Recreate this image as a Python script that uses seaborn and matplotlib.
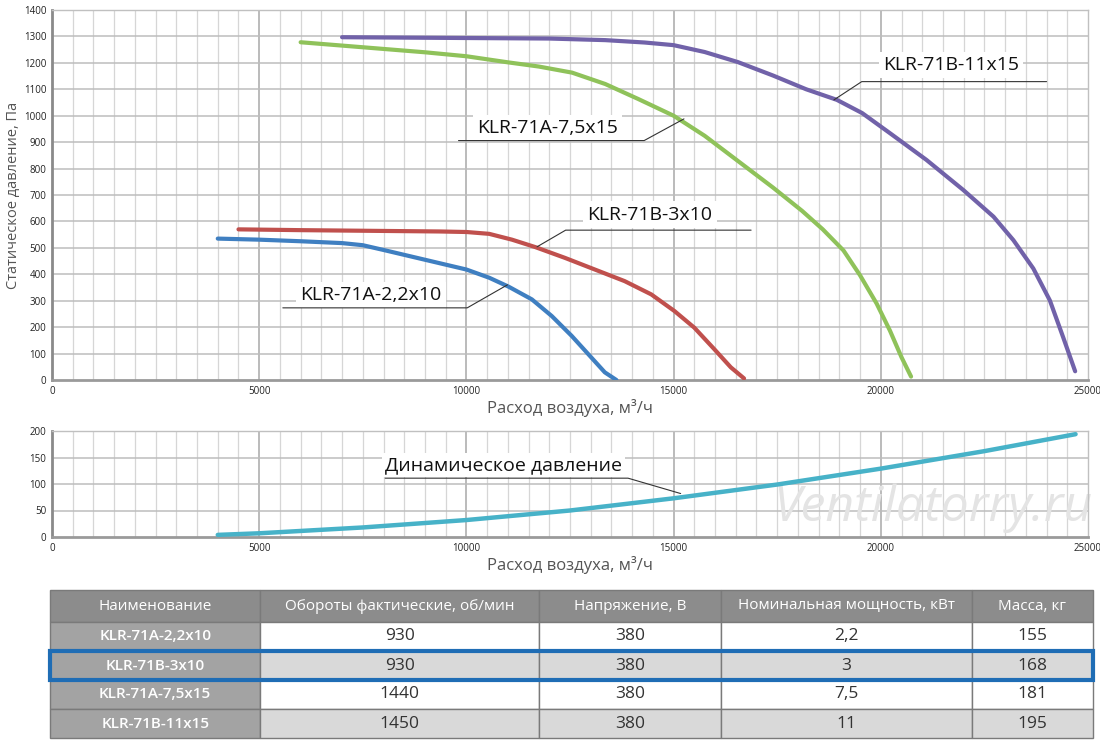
import numpy as np
import pandas as pd
import matplotlib
matplotlib.use("Agg")
import matplotlib.pyplot as plt
from matplotlib.patches import Rectangle
import seaborn as sns

# --- static pressure curves (flow m3/h, pressure Pa) ---
models = ["KLR-71A-2,2x10", "KLR-71B-3x10", "KLR-71A-7,5x15", "KLR-71B-11x15"]

flow_a22 = [4000, 5000, 6000, 7000, 7500, 8000, 9000, 10000, 10550, 11020, 11580,
            12060, 12540, 12940, 13340, 13620]
pres_a22 = [535, 531, 525, 518, 510, 492, 455, 418, 387, 353, 305,
            242, 167, 98, 29, 0]

flow_b3 = [4500, 6000, 8000, 9350, 10000, 10550, 11100, 11660, 12380, 13100, 13820,
           14460, 15020, 15500, 15980, 16380, 16700]
pres_b3 = [570, 567, 564, 562, 560, 553, 531, 503, 462, 418, 374,
           324, 261, 198, 117, 48, 6]

flow_a75 = [6000, 7500, 9000, 10000, 11000, 11750, 12550, 13350, 14150, 15000, 15750,
            16550, 17400, 18100, 18600, 19100, 19500, 19900, 20220, 20500, 20730]
pres_a75 = [1278, 1259, 1240, 1225, 1202, 1186, 1163, 1120, 1063, 1000, 924,
            829, 728, 640, 570, 490, 396, 289, 187, 86, 13]

flow_b11 = [7000, 9000, 11000, 12000, 13350, 14300, 15000, 15750, 16550, 17400, 18200,
            18940, 19550, 20220, 21100, 21990, 22720, 23200, 23680, 24080, 24400, 24690]
pres_b11 = [1297, 1295, 1293, 1292, 1286, 1277, 1267, 1241, 1203, 1152, 1100,
            1060, 1010, 934, 833, 719, 618, 529, 422, 301, 162, 33]

# --- dynamic pressure ---
flow_dyn = [4000, 5000, 7500, 10000, 12500, 15000, 17500, 20000, 22500, 24700]
pres_dyn = [4, 7, 18, 32, 50, 73, 99, 129, 162, 194]

# --- table ---
col_labels = ["Наименование", "Обороты фактические, об/мин", "Напряжение, В",
              "Номинальная мощность, кВт", "Масса, кг"]
rpm = ["930", "930", "1440", "1450"]
voltage = ["380", "380", "380", "380"]
power = ["2,2", "3", "7,5", "11"]
mass = ["155", "168", "181", "195"]
highlight_row = 1

colors = ["#3f7fc1", "#c0504d", "#8fc25a", "#7162a9"]
dyn_color = "#47b2c8"

sns.set_style("white")
plt.rcParams["font.family"] = ["Open Sans", "DejaVu Sans"]

df = pd.concat([
    pd.DataFrame({"flow": f, "pressure": p, "model": m})
    for f, p, m in zip([flow_a22, flow_b3, flow_a75, flow_b11],
                       [pres_a22, pres_b3, pres_a75, pres_b11], models)
])
df_dyn = pd.DataFrame({"flow": flow_dyn, "pressure": pres_dyn})

fig = plt.figure(figsize=(11, 7.44), dpi=100)
ax1 = fig.add_axes([52 / 1100, 1 - 380 / 744, 1036 / 1100, 370 / 744])
ax2 = fig.add_axes([52 / 1100, 1 - 537 / 744, 1036 / 1100, 106 / 744])
ax3 = fig.add_axes([50 / 1100, 6 / 744, 1043 / 1100, 148 / 744])


def style_grid(ax, ymax, ystep):
    ax.set_xlim(0, 25000)
    ax.set_ylim(0, ymax)
    for x in np.arange(500, 25000, 500):
        major = x % 5000 == 0
        ax.axvline(x, color="#b5b5b5" if major else "#d6d6d6",
                   lw=1.3 if major else 0.9, zorder=0)
    for y in np.arange(ystep, ymax + 1, ystep):
        ax.axhline(y, color="#bdbdbd", lw=1.1, zorder=0)
    ax.set_xticks(np.arange(0, 25001, 5000))
    ax.set_yticks(np.arange(0, ymax + 1, ystep))
    ax.tick_params(axis="both", labelsize=7, length=3, width=0.8,
                   colors="#777777", labelcolor="#222222", pad=1)
    for side in ["top", "right"]:
        ax.spines[side].set_color("#c0c0c0")
        ax.spines[side].set_linewidth(1)
    ax.spines["left"].set_color("#8a8a8a")
    ax.spines["left"].set_linewidth(2)
    ax.spines["bottom"].set_color("#9a9a9a")
    ax.spines["bottom"].set_linewidth(2)


# --- top chart ---
style_grid(ax1, 1400, 100)
sns.lineplot(data=df, x="flow", y="pressure", hue="model", palette=colors,
             sort=False, lw=3, legend=False, ax=ax1, zorder=3)
ax1.set_xlabel("Расход воздуха, м³/ч", fontsize=12, color="#555555", labelpad=2)
ax1.set_ylabel("Статическое давление, Па", fontsize=10.5, color="#555555", labelpad=2)

# callouts: text position, underline start/end, leader end on curve
callouts = [
    ("KLR-71A-2,2x10", (7700, 321), (5570, 10020, 273), (10990, 360)),
    ("KLR-71B-3x10", (14430, 626), (12395, 16870, 567), (11705, 504)),
    ("KLR-71A-7,5x15", (11950, 953), (9810, 14290, 906), (15250, 988)),
    ("KLR-71B-11x15", (21700, 1192), (19540, 24000, 1129), (18870, 1060)),
]
for label, (tx, ty), (u0, u1, uy), (lx, ly) in callouts:
    ax1.text(tx, ty, label, fontsize=14, ha="center", va="center", color="#111111",
             zorder=4, bbox=dict(facecolor="white", edgecolor="none", pad=3))
    if lx < u0:
        ax1.plot([u1, u0, lx], [uy, uy, ly], color="#333333", lw=0.8, zorder=4)
    else:
        ax1.plot([u0, u1, lx], [uy, uy, ly], color="#333333", lw=0.8, zorder=4)

# --- bottom chart ---
style_grid(ax2, 200, 50)
ax2.text(21260, 55, "Ventilatorry.ru", fontsize=36, style="italic", ha="center",
         va="center", color="#e4e4e4", zorder=1)
sns.lineplot(data=df_dyn, x="flow", y="pressure", color=dyn_color, lw=3.2,
             ax=ax2, zorder=3)
ax2.set_xlabel("Расход воздуха, м³/ч", fontsize=12, color="#555555", labelpad=2)
ax2.set_ylabel("")
ax2.text(10890, 136, "Динамическое давление", fontsize=14, ha="center", va="center",
         color="#111111", zorder=4, bbox=dict(facecolor="white", edgecolor="none", pad=2))
ax2.plot([8040, 13900, 15170], [111, 111, 82], color="#333333", lw=0.8, zorder=4)

# --- table ---
ax3.axis("off")
cells = [[m, r, v, p, w] for m, r, v, p, w in zip(models, rpm, voltage, power, mass)]
body_bg = ["#ffffff", "#d9d9d9", "#ffffff", "#d9d9d9"]
cell_colours = [["#a3a3a3"] + [bg] * 4 for bg in body_bg]
widths = np.array([210, 278, 182, 250, 121], dtype=float)
tbl = ax3.table(cellText=cells, colLabels=col_labels, cellColours=cell_colours,
                colColours=["#8c8c8c"] * 5, colWidths=list(widths / widths.sum()),
                cellLoc="center", bbox=[0, 0, 1, 1])
tbl.auto_set_font_size(False)
for (r, c), cell in tbl.get_celld().items():
    cell.set_edgecolor("#7a7a7a")
    cell.set_linewidth(1)
    cell.set_height(32 if r == 0 else 29)
    txt = cell.get_text()
    if r == 0:
        txt.set_color("white")
        txt.set_fontsize(11)
    elif c == 0:
        txt.set_color("white")
        txt.set_fontsize(11)
        txt.set_fontweight("semibold")
    else:
        txt.set_color("#333333")
        txt.set_fontsize(12.5)

row_h = 29 / 148
ax3.add_patch(Rectangle((0.0, 1 - (32 + 29 * (highlight_row + 1)) / 148), 1.0, row_h,
                        transform=ax3.transAxes, fill=False, edgecolor="#1f6db5",
                        lw=3, zorder=10, clip_on=False))

fig.savefig("out.png", dpi=100)
